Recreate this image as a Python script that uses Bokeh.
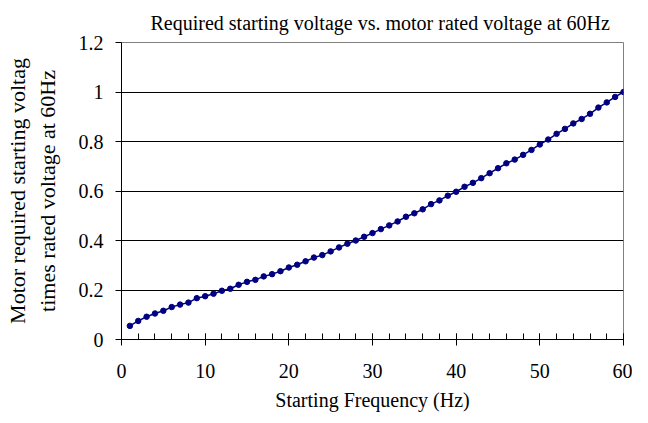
from bokeh.plotting import figure
from bokeh.embed import file_html
from bokeh.resources import INLINE
from bokeh.models import FixedTicker, CustomJSTickFormatter, Range1d

# Data
frequency_hz = [1, 2, 3, 4, 5, 6, 7, 8, 9, 10,
                11, 12, 13, 14, 15, 16, 17, 18, 19, 20,
                21, 22, 23, 24, 25, 26, 27, 28, 29, 30,
                31, 32, 33, 34, 35, 36, 37, 38, 39, 40,
                41, 42, 43, 44, 45, 46, 47, 48, 49, 50,
                51, 52, 53, 54, 55, 56, 57, 58, 59, 60]
voltage_ratio = [0.055, 0.075, 0.092, 0.105, 0.116, 0.131, 0.141, 0.149, 0.167, 0.175,
                 0.185, 0.197, 0.205, 0.221, 0.233, 0.241, 0.255, 0.264, 0.276, 0.291,
                 0.302, 0.316, 0.331, 0.341, 0.356, 0.372, 0.387, 0.400, 0.415, 0.430,
                 0.446, 0.461, 0.477, 0.496, 0.510, 0.526, 0.547, 0.562, 0.581, 0.597,
                 0.617, 0.633, 0.652, 0.672, 0.692, 0.712, 0.727, 0.746, 0.766, 0.788,
                 0.808, 0.831, 0.851, 0.873, 0.891, 0.912, 0.937, 0.958, 0.980, 1.000]

x_ticks = [0, 10, 20, 30, 40, 50, 60]
x_minor_ticks = [0, 2, 4, 6, 8, 10, 12, 14, 16, 18, 20, 22, 24, 26, 28, 30,
                 32, 34, 36, 38, 40, 42, 44, 46, 48, 50, 52, 54, 56, 58, 60]
y_ticks = [0, 0.2, 0.4, 0.6, 0.8, 1.0, 1.2]

title_text = "Required starting voltage vs. motor rated voltage at 60Hz"
x_label = "Starting Frequency (Hz)"
y_label = "Motor required starting voltag\ntimes rated voltage at 60Hz"

FONT = "Liberation Serif"

p = figure(width=632, height=419, output_backend="svg", toolbar_location=None,
           x_range=Range1d(0, 60), y_range=Range1d(0, 1.2),
           min_border_left=121, min_border_right=9, min_border_top=42, min_border_bottom=80)

p.title.text = title_text
p.title.align = "left"
p.title.offset = 29
p.title.text_font = FONT
p.title.text_font_size = "20px"
p.title.text_font_style = "normal"
p.title.text_color = "black"
p.title.standoff = 18

p.background_fill_color = "white"
p.border_fill_color = "white"
p.outline_line_color = "#808080"
p.outline_line_width = 1

# x axis
xa = p.xaxis[0]
xa.ticker = FixedTicker(ticks=x_ticks, minor_ticks=x_minor_ticks)
xa.axis_label = x_label
xa.axis_label_text_font = FONT
xa.axis_label_text_font_size = "20px"
xa.axis_label_text_font_style = "normal"
xa.axis_label_text_color = "black"
xa.axis_label_standoff = 8
xa.major_label_text_font = FONT
xa.major_label_text_font_size = "20px"
xa.major_label_text_color = "black"
xa.major_label_standoff = 18
xa.axis_line_color = "black"
xa.major_tick_line_color = "black"
xa.minor_tick_line_color = "black"
xa.major_tick_in = 6
xa.major_tick_out = 6
xa.minor_tick_in = 6
xa.minor_tick_out = 0

# y axis
ya = p.yaxis[0]
ya.ticker = FixedTicker(ticks=y_ticks)
ya.formatter = CustomJSTickFormatter(code="return String(Math.round(tick * 10) / 10);")
ya.axis_label = y_label
ya.axis_label_text_font = FONT
ya.axis_label_text_font_size = "22px"
ya.axis_label_text_font_style = "normal"
ya.axis_label_text_color = "black"
ya.axis_label_standoff = 16
ya.major_label_text_font = FONT
ya.major_label_text_font_size = "20px"
ya.major_label_text_color = "black"
ya.major_label_standoff = 12
ya.axis_line_color = "black"
ya.major_tick_line_color = "black"
ya.major_tick_in = 0
ya.major_tick_out = 6
ya.minor_tick_line_color = None

p.xgrid.grid_line_color = None
p.ygrid.grid_line_color = "#000000"
p.ygrid.grid_line_width = 1

p.line(frequency_hz, voltage_ratio, line_color="#000080", line_width=1.5)
p.scatter(frequency_hz, voltage_ratio, size=5.5, fill_color="#000080", line_color="#000080")

open("out.html", "w").write(file_html(p, INLINE))
